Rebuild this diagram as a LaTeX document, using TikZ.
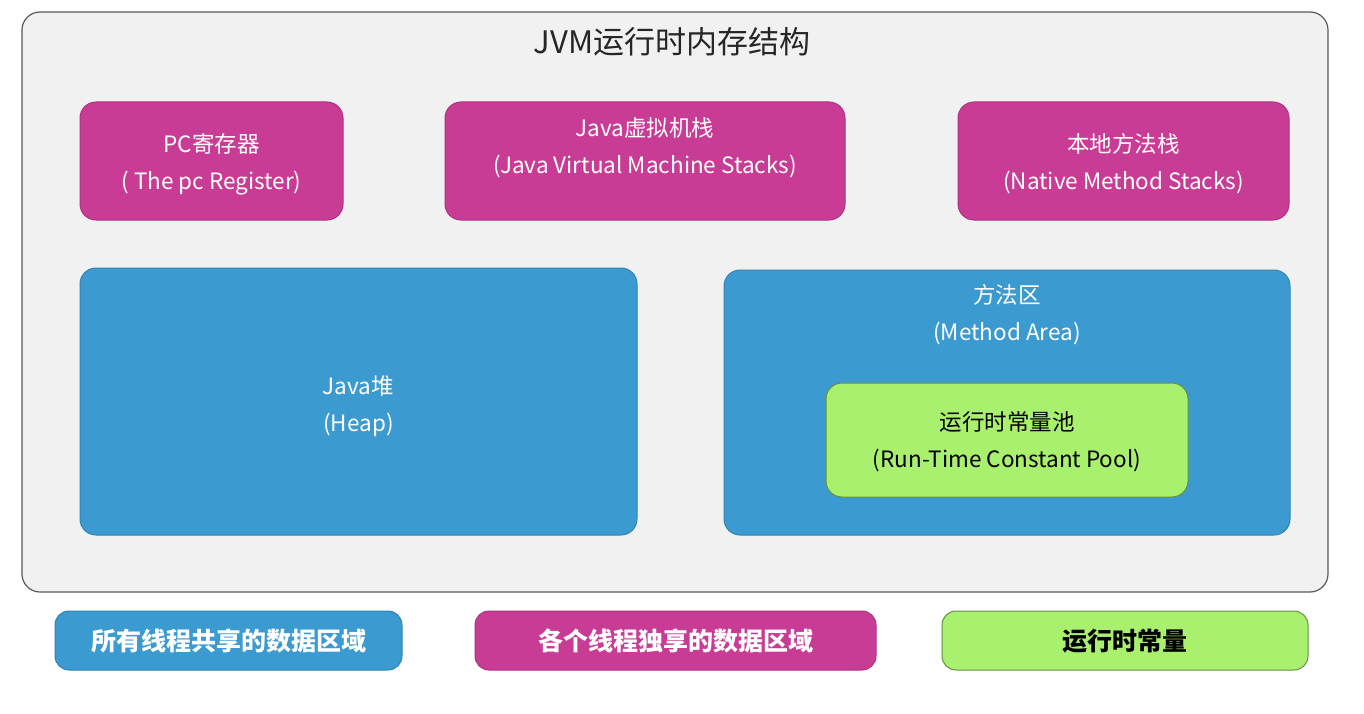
\documentclass[tikz,border=0pt]{standalone}
\usepackage{fontspec}
\setmainfont{Noto Sans CJK SC}
\definecolor{mag}{HTML}{C93C96}
\definecolor{blu}{HTML}{3B9AD0}
\definecolor{grn}{HTML}{A9F06F}
\definecolor{outerfill}{HTML}{F1F1F1}
\definecolor{outerline}{HTML}{5A5A5A}
\begin{document}
\begin{tikzpicture}[x=1pt,y=-1pt,
  region/.style={rounded corners=16pt},
  magbox/.style={region,fill=mag,draw=mag!85!black,line width=1pt},
  blubox/.style={region,fill=blu,draw=blu!85!black,line width=1pt},
  grnbox/.style={region,fill=grn,draw=grn!60!black,line width=1pt},
  wtxt/.style={text=white,font=\fontsize{22.5}{37}\selectfont,align=center},
  btxt/.style={text=black,font=\fontsize{22.5}{37}\selectfont,align=center},
  legtxt/.style={font=\fontsize{25}{28}\selectfont\bfseries}]
\useasboundingbox (0,0) rectangle (1364,714);
\fill[white] (0,0) rectangle (1364,714);
% outer frame
\draw[outerline,fill=outerfill,line width=1.2pt,rounded corners=18pt] (22,12) rectangle (1328,592);
\node[font=\fontsize{31}{36}\selectfont,text=black!85] (title) at (672,42) {JVM运行时内存结构};
% thread-private areas
\draw[magbox] (80,102) rectangle (343,220);
\node[wtxt] (pc) at (211.5,164) {PC寄存器\\( The pc Register)};
\draw[magbox] (445,102) rectangle (845,220);
\node[wtxt] (jvms) at (645,148) {Java虚拟机栈\\(Java Virtual Machine Stacks)};
\draw[magbox] (958,102) rectangle (1289,220);
\node[wtxt] (nms) at (1123.5,164) {本地方法栈\\(Native Method Stacks)};
% shared areas
\draw[blubox] (80,268) rectangle (637,535);
\node[wtxt] (heap) at (358.5,406) {Java堆\\(Heap)};
\draw[blubox] (724,270) rectangle (1290,535);
\node[wtxt] (ma) at (1007,315) {方法区\\(Method Area)};
\draw[grnbox] (826,383) rectangle (1188,497);
\node[btxt] (rcp) at (1007,442) {运行时常量池\\(Run-Time Constant Pool)};
% legend
\draw[blubox,rounded corners=14pt] (55,611) rectangle (402,670);
\node[legtxt,text=white] (l1) at (228.5,641) {所有线程共享的数据区域};
\draw[magbox,rounded corners=14pt] (475,611) rectangle (876,670);
\node[legtxt,text=white] (l2) at (675.5,641) {各个线程独享的数据区域};
\draw[grnbox,rounded corners=14pt] (942,611) rectangle (1308,670);
\node[legtxt,text=black] (l3) at (1125,641) {运行时常量};
\end{tikzpicture}
\end{document}
